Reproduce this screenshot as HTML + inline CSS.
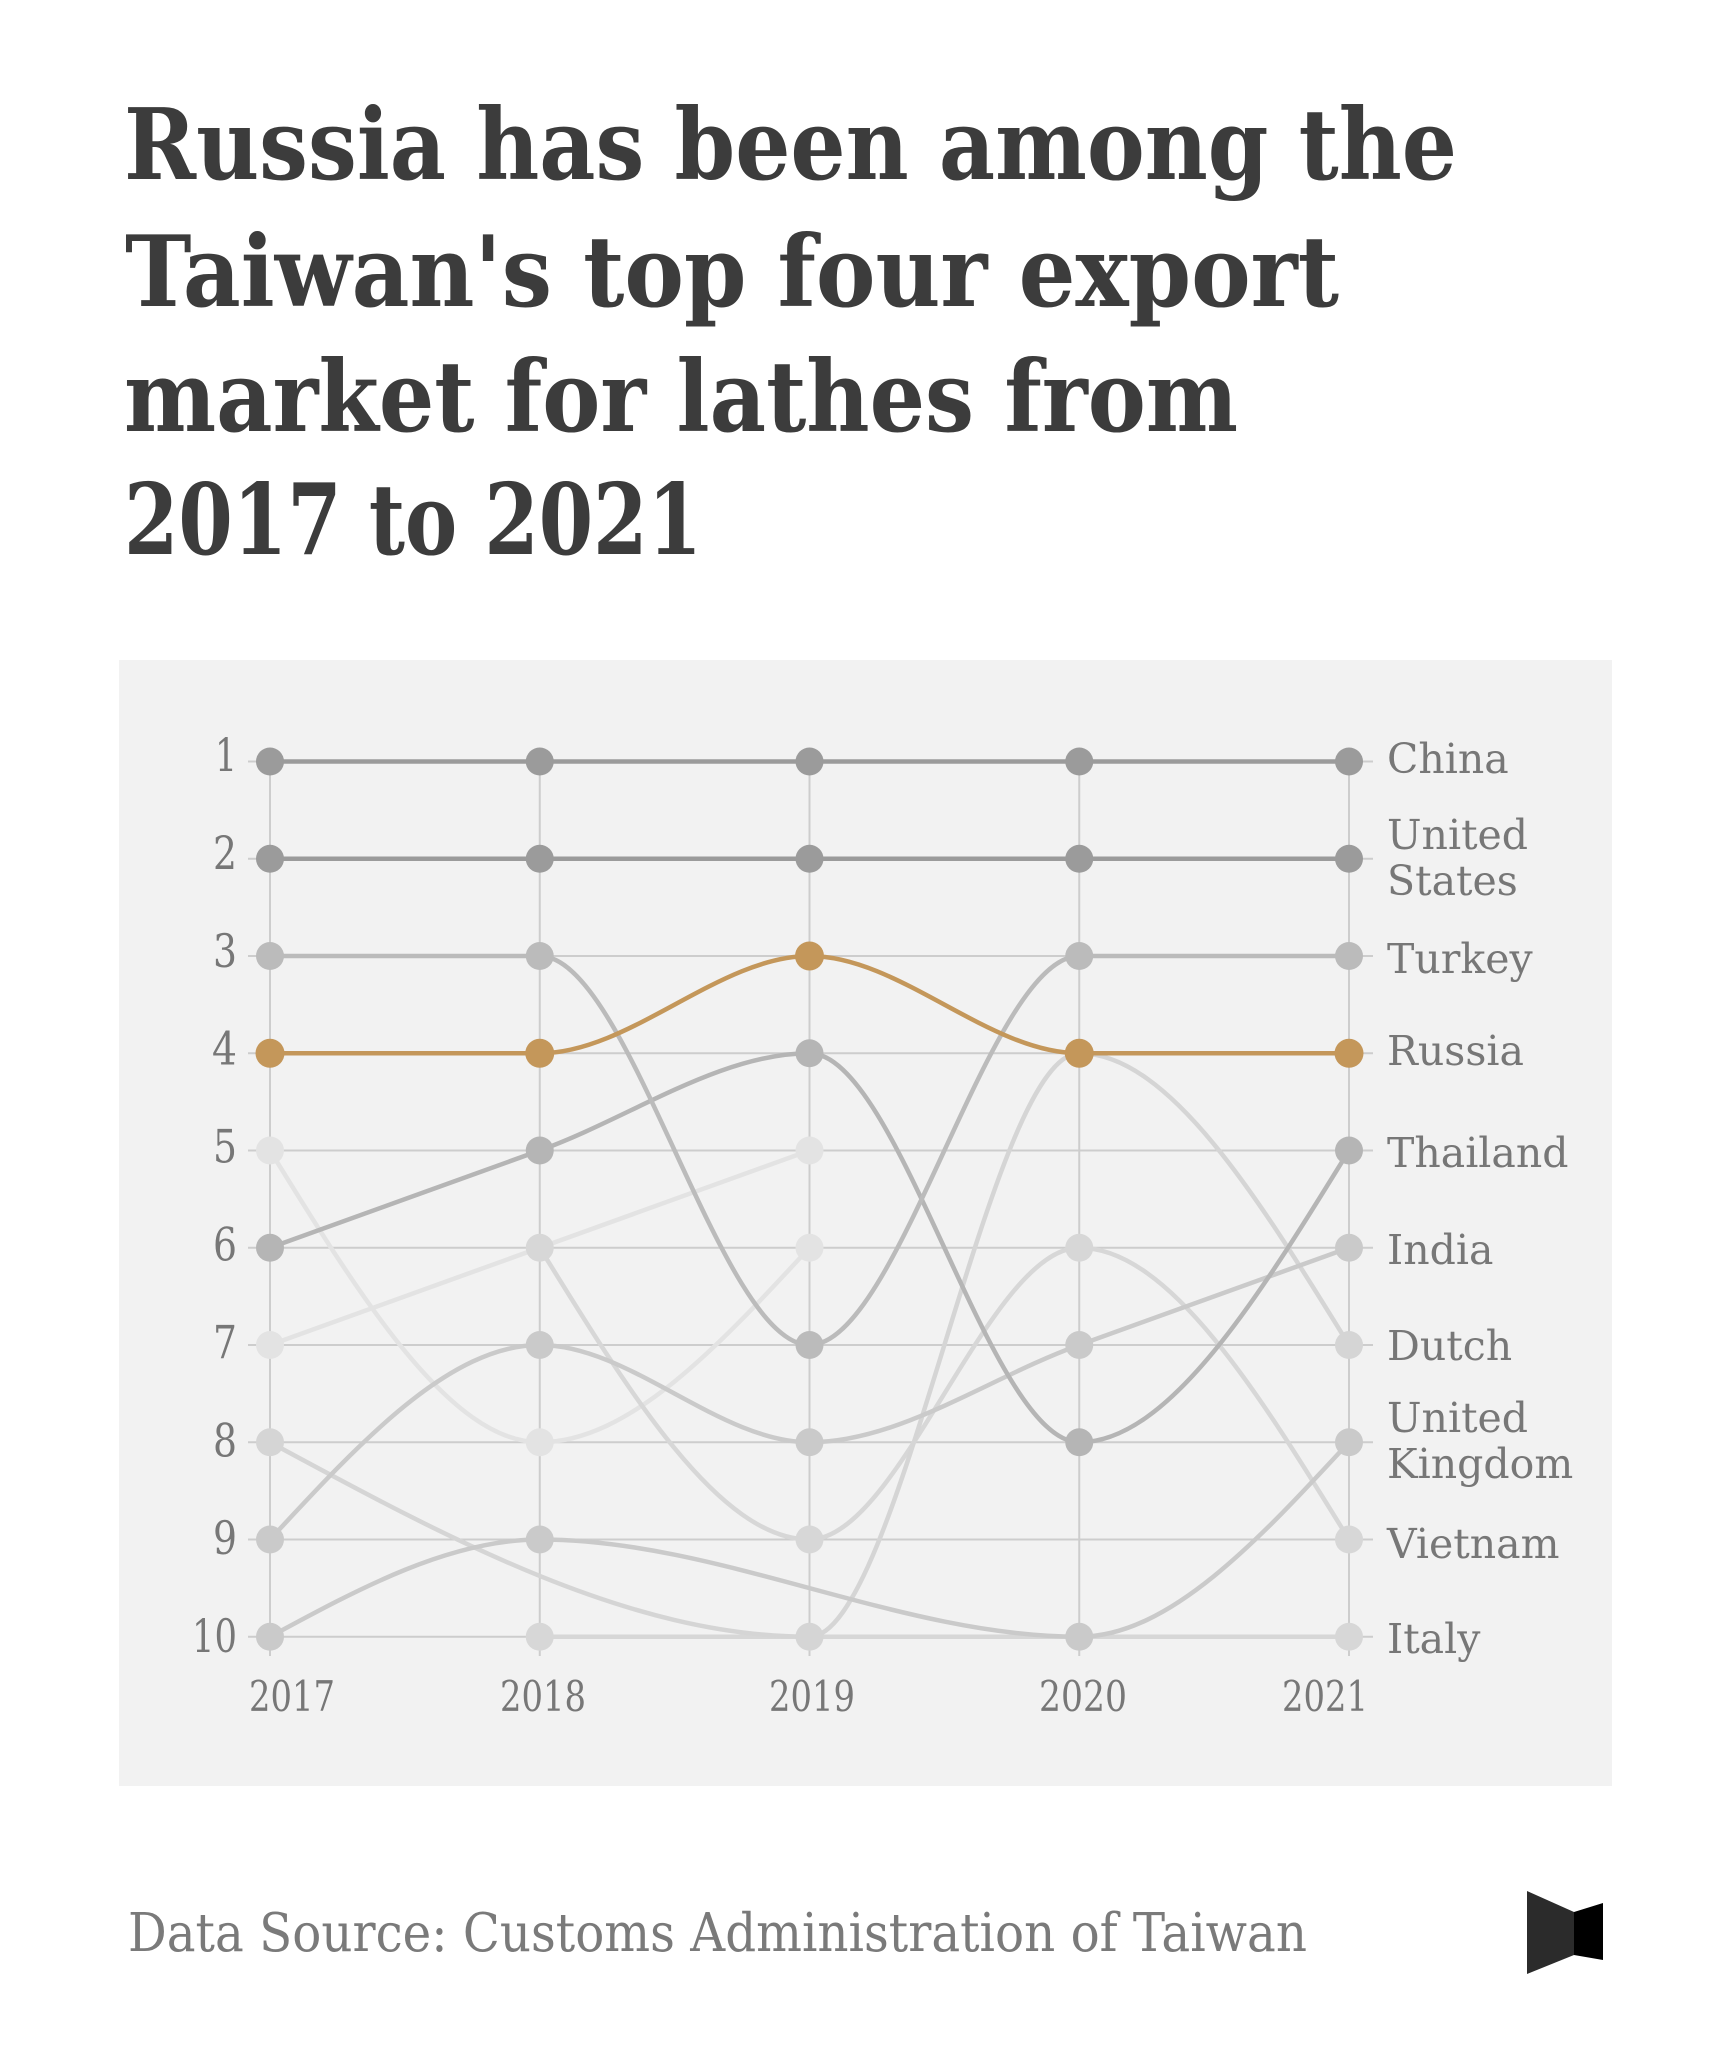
<!DOCTYPE html>
<html>
<head>
<meta charset="utf-8">
<style>
  html, body { margin: 0; padding: 0; background: #ffffff; }
  svg { display: block; }
  .title { font-family: "DejaVu Serif", "Liberation Serif", serif; font-weight: bold; font-size: 98px; fill: #3c3c3c; }
  .ylab { font-family: "DejaVu Serif", "Liberation Serif", serif; font-size: 46px; fill: #777777; }
  .xlab { font-family: "DejaVu Serif", "Liberation Serif", serif; font-size: 42px; fill: #777777; }
  .rlab { font-family: "DejaVu Serif", "Liberation Serif", serif; font-size: 41px; fill: #777777; }
  .foot { font-family: "DejaVu Serif", "Liberation Serif", serif; font-size: 53px; fill: #7a7a7a; }
</style>
</head>
<body>
<svg width="1732" height="2057" viewBox="0 0 1732 2057" xmlns="http://www.w3.org/2000/svg">
  <rect x="0" y="0" width="1732" height="2057" fill="#ffffff"/>

  <!-- Title -->
  <text class="title" x="124" y="179" textLength="1333" lengthAdjust="spacingAndGlyphs">Russia has been among the</text>
  <text class="title" x="125" y="306" textLength="1214" lengthAdjust="spacingAndGlyphs">Taiwan's top four export</text>
  <text class="title" x="124" y="431" textLength="1114" lengthAdjust="spacingAndGlyphs">market for lathes from</text>
  <text class="title" x="124" y="554" textLength="578" lengthAdjust="spacingAndGlyphs">2017 to 2021</text>

  <!-- Chart background -->
  <rect x="119" y="660" width="1493" height="1126" fill="#f2f2f2"/>

  <!-- Grid -->
  <g stroke="#cdcdcd" stroke-width="2" fill="none">
    <line x1="248" y1="761.5" x2="1373" y2="761.5"/>
    <line x1="248" y1="858.75" x2="1373" y2="858.75"/>
    <line x1="248" y1="956" x2="1373" y2="956"/>
    <line x1="248" y1="1053.25" x2="1373" y2="1053.25"/>
    <line x1="248" y1="1150.5" x2="1373" y2="1150.5"/>
    <line x1="248" y1="1247.75" x2="1373" y2="1247.75"/>
    <line x1="248" y1="1345" x2="1373" y2="1345"/>
    <line x1="248" y1="1442.25" x2="1373" y2="1442.25"/>
    <line x1="248" y1="1539.5" x2="1373" y2="1539.5"/>
    <line x1="248" y1="1636.75" x2="1373" y2="1636.75"/>
    <line x1="270" y1="761.5" x2="270" y2="1656"/>
    <line x1="539.75" y1="761.5" x2="539.75" y2="1656"/>
    <line x1="809.5" y1="761.5" x2="809.5" y2="1656"/>
    <line x1="1079.25" y1="761.5" x2="1079.25" y2="1656"/>
    <line x1="1349" y1="761.5" x2="1349" y2="1656"/>
  </g>

  <!-- Series lines -->
  <g fill="none" stroke-width="4.5" stroke-linecap="round" stroke-linejoin="round">
    <path stroke="#e3e3e3" d="M270,1150.5 C359.92,1296.375 449.83,1442.25 539.75,1442.25 C629.67,1442.25 719.58,1345 809.5,1247.75"/>
    <path stroke="#e3e3e3" d="M270,1345 L809.5,1150.5"/>
    <path stroke="#d7d7d7" d="M539.75,1636.75 L1349,1636.75"/>
    <path stroke="#d7d7d7" d="M539.75,1247.75 C629.67,1393.625 719.58,1539.5 809.5,1539.5 C899.42,1539.5 989.33,1247.75 1079.25,1247.75 C1169.17,1247.75 1259.08,1393.625 1349,1539.5"/>
    <path stroke="#d5d5d5" d="M270,1442.25 C449.83,1539.5 629.67,1636.75 809.5,1636.75 C899.42,1636.75 989.33,1053.25 1079.25,1053.25 C1169.17,1053.25 1259.08,1199.125 1349,1345"/>
    <path stroke="#cacaca" d="M270,1636.75 C359.92,1588.125 449.83,1539.5 539.75,1539.5 C719.58,1539.5 899.42,1636.75 1079.25,1636.75 C1169.17,1636.75 1259.08,1539.5 1349,1442.25"/>
    <path stroke="#cacaca" d="M270,1539.5 C359.92,1442.25 449.83,1345 539.75,1345 C629.67,1345 719.58,1442.25 809.5,1442.25 C899.42,1442.25 989.33,1377.42 1079.25,1345 C1169.17,1312.58 1259.08,1280.17 1349,1247.75"/>
    <path stroke="#b5b5b5" d="M270,1247.75 C359.92,1215.33 449.83,1182.92 539.75,1150.5 C629.67,1118.08 719.58,1053.25 809.5,1053.25 C899.42,1053.25 989.33,1442.25 1079.25,1442.25 C1169.17,1442.25 1259.08,1296.375 1349,1150.5"/>
    <path stroke="#bbbbbb" d="M270,956 L539.75,956 C629.67,956 719.58,1345 809.5,1345 C899.42,1345 989.33,956 1079.25,956 L1349,956"/>
    <path stroke="#9b9b9b" d="M270,858.75 L1349,858.75"/>
    <path stroke="#9b9b9b" d="M270,761.5 L1349,761.5"/>
    <path stroke="#c4975a" d="M270,1053.25 L539.75,1053.25 C629.67,1053.25 719.58,956 809.5,956 C899.42,956 989.33,1053.25 1079.25,1053.25 L1349,1053.25"/>
  </g>

  <!-- Dots -->
  <g>
    <g fill="#e3e3e3">
      <circle cx="270" cy="1150.5" r="14"/>
      <circle cx="539.75" cy="1442.25" r="14"/>
      <circle cx="809.5" cy="1247.75" r="14"/>
      <circle cx="270" cy="1345" r="14"/>
      <circle cx="809.5" cy="1150.5" r="14"/>
    </g>
    <g fill="#d7d7d7">
      <circle cx="539.75" cy="1636.75" r="14"/>
      <circle cx="1349" cy="1636.75" r="14"/>
      <circle cx="539.75" cy="1247.75" r="14"/>
      <circle cx="809.5" cy="1539.5" r="14"/>
      <circle cx="1079.25" cy="1247.75" r="14"/>
      <circle cx="1349" cy="1539.5" r="14"/>
    </g>
    <g fill="#d5d5d5">
      <circle cx="270" cy="1442.25" r="14"/>
      <circle cx="809.5" cy="1636.75" r="14"/>
      <circle cx="1349" cy="1345" r="14"/>
    </g>
    <g fill="#cacaca">
      <circle cx="270" cy="1636.75" r="14"/>
      <circle cx="539.75" cy="1539.5" r="14"/>
      <circle cx="1079.25" cy="1636.75" r="14"/>
      <circle cx="1349" cy="1442.25" r="14"/>
      <circle cx="270" cy="1539.5" r="14"/>
      <circle cx="539.75" cy="1345" r="14"/>
      <circle cx="809.5" cy="1442.25" r="14"/>
      <circle cx="1079.25" cy="1345" r="14"/>
      <circle cx="1349" cy="1247.75" r="14"/>
    </g>
    <g fill="#b5b5b5">
      <circle cx="270" cy="1247.75" r="14"/>
      <circle cx="539.75" cy="1150.5" r="14"/>
      <circle cx="809.5" cy="1053.25" r="14"/>
      <circle cx="1079.25" cy="1442.25" r="14"/>
      <circle cx="1349" cy="1150.5" r="14"/>
    </g>
    <g fill="#bbbbbb">
      <circle cx="270" cy="956" r="14"/>
      <circle cx="539.75" cy="956" r="14"/>
      <circle cx="809.5" cy="1345" r="14"/>
      <circle cx="1079.25" cy="956" r="14"/>
      <circle cx="1349" cy="956" r="14"/>
    </g>
    <g fill="#9b9b9b">
      <circle cx="270" cy="761.5" r="14"/>
      <circle cx="539.75" cy="761.5" r="14"/>
      <circle cx="809.5" cy="761.5" r="14"/>
      <circle cx="1079.25" cy="761.5" r="14"/>
      <circle cx="1349" cy="761.5" r="14"/>
      <circle cx="270" cy="858.75" r="14"/>
      <circle cx="539.75" cy="858.75" r="14"/>
      <circle cx="809.5" cy="858.75" r="14"/>
      <circle cx="1079.25" cy="858.75" r="14"/>
      <circle cx="1349" cy="858.75" r="14"/>
    </g>
    <g fill="#c4975a">
      <circle cx="270" cy="1053.25" r="14.5"/>
      <circle cx="539.75" cy="1053.25" r="14.5"/>
      <circle cx="809.5" cy="956" r="14.5"/>
      <circle cx="1079.25" cy="1053.25" r="14.5"/>
      <circle cx="1349" cy="1053.25" r="14.5"/>
    </g>
  </g>

  <!-- Y axis labels -->
  <g class="ylab" text-anchor="end">
    <text x="237" y="771" textLength="22" lengthAdjust="spacingAndGlyphs">1</text>
    <text x="237" y="868.9" textLength="24" lengthAdjust="spacingAndGlyphs">2</text>
    <text x="237" y="966.8" textLength="24" lengthAdjust="spacingAndGlyphs">3</text>
    <text x="237" y="1064.7" textLength="25" lengthAdjust="spacingAndGlyphs">4</text>
    <text x="237" y="1162.6" textLength="24" lengthAdjust="spacingAndGlyphs">5</text>
    <text x="237" y="1260.5" textLength="24" lengthAdjust="spacingAndGlyphs">6</text>
    <text x="237" y="1358.4" textLength="24" lengthAdjust="spacingAndGlyphs">7</text>
    <text x="237" y="1456.3" textLength="24" lengthAdjust="spacingAndGlyphs">8</text>
    <text x="237" y="1554.2" textLength="24" lengthAdjust="spacingAndGlyphs">9</text>
    <text x="237" y="1652.1" textLength="45" lengthAdjust="spacingAndGlyphs">10</text>
  </g>

  <!-- X axis labels -->
  <g class="xlab" text-anchor="middle">
    <text x="292" y="1711" textLength="86" lengthAdjust="spacingAndGlyphs">2017</text>
    <text x="543" y="1711" textLength="86" lengthAdjust="spacingAndGlyphs">2018</text>
    <text x="812" y="1711" textLength="86" lengthAdjust="spacingAndGlyphs">2019</text>
    <text x="1083" y="1711" textLength="88" lengthAdjust="spacingAndGlyphs">2020</text>
    <text x="1325" y="1711" textLength="86" lengthAdjust="spacingAndGlyphs">2021</text>
  </g>

  <!-- Right labels -->
  <g class="rlab">
    <text x="1387" y="773">China</text>
    <text x="1387" y="849">United</text>
    <text x="1387" y="895">States</text>
    <text x="1387" y="973">Turkey</text>
    <text x="1387" y="1065">Russia</text>
    <text x="1387" y="1167">Thailand</text>
    <text x="1387" y="1264">India</text>
    <text x="1387" y="1360">Dutch</text>
    <text x="1387" y="1432">United</text>
    <text x="1387" y="1478">Kingdom</text>
    <text x="1387" y="1558">Vietnam</text>
    <text x="1387" y="1653">Italy</text>
  </g>

  <!-- Footer -->
  <text class="foot" x="128" y="1951" textLength="1179" lengthAdjust="spacingAndGlyphs">Data Source: Customs Administration of Taiwan</text>

  <!-- Logo -->
  <polygon points="1527,1891 1574,1912 1574,1955 1527,1974" fill="#2b2b2b"/>
  <polygon points="1574,1912 1603,1903 1603,1960 1574,1955" fill="#000000"/>
</svg>
</body>
</html>
